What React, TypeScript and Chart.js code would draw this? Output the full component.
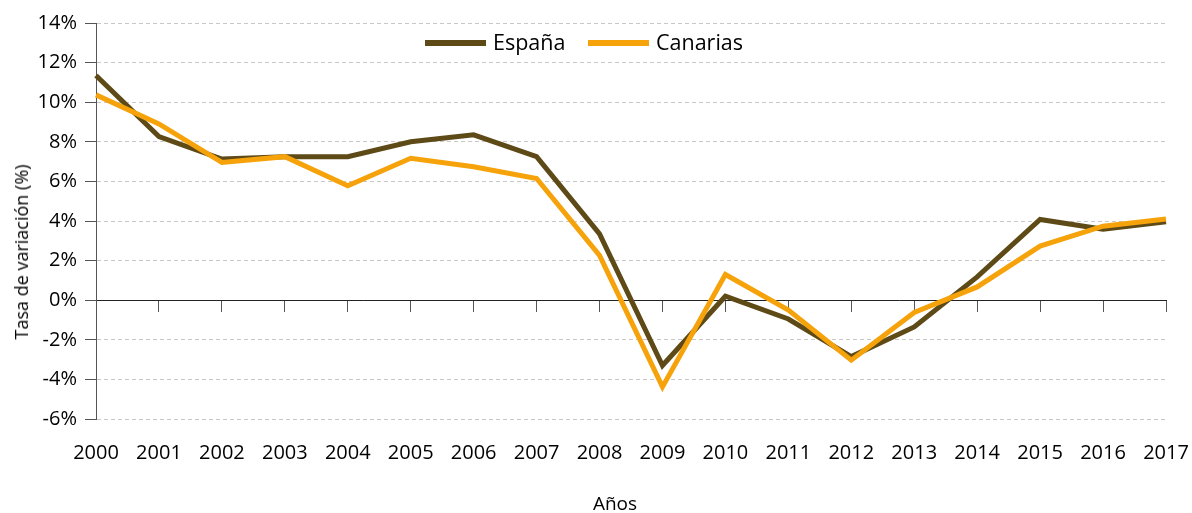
import React, { useEffect, useRef } from "react";
import { Chart, registerables } from "chart.js";

Chart.register(...registerables);

const years = ["2000","2001","2002","2003","2004","2005","2006","2007","2008","2009","2010","2011","2012","2013","2014","2015","2016","2017"];
const espana = [11.35, 8.26, 7.13, 7.25, 7.25, 8.0, 8.35, 7.25, 3.35, -3.3, 0.2, -0.95, -2.85, -1.35, 1.18, 4.08, 3.58, 3.96];
const canarias = [10.37, 8.9, 6.96, 7.25, 5.78, 7.17, 6.74, 6.15, 2.26, -4.38, 1.3, -0.5, -3.03, -0.62, 0.67, 2.73, 3.74, 4.1];
const seriesNames = ["España", "Canarias"];
const seriesColors = ["#5e4a16", "#f6a30b"];
const yTitle = "Tasa de variación (%)";
const xTitle = "Años";

const FONT = "'Open Sans', sans-serif";
const W = 1192;
const H = 513;

export default function App() {
  const ref = useRef<HTMLCanvasElement | null>(null);
  useEffect(() => {
    if (!ref.current) return;
    const chart = new Chart(ref.current, {
      type: "line",
      data: {
        labels: years,
        datasets: [
          { label: seriesNames[0], data: espana, borderColor: seriesColors[0], backgroundColor: seriesColors[0], borderWidth: 5, pointRadius: 0, tension: 0, order: 1, xAxisID: "x" },
          { label: seriesNames[1], data: canarias, borderColor: seriesColors[1], backgroundColor: seriesColors[1], borderWidth: 5, pointRadius: 0, tension: 0, order: 0, xAxisID: "x" },
        ],
      },
      options: {
        responsive: false,
        animation: false,
        layout: { padding: { top: 23, right: 26, left: 0, bottom: 0 } },
        plugins: { legend: { display: false }, tooltip: { enabled: false } },
        scales: {
          x: {
            type: "category",
            position: "bottom",
            grid: { display: false, drawTicks: false },
            border: { display: false },
            ticks: { color: "#000", font: { family: FONT, size: 20 }, padding: 22, maxRotation: 0, autoSkip: false },
            afterFit: (s: any) => { s.height = 94; s.paddingRight = 0; s.paddingLeft = 0; },
          },
          x2: {
            type: "category",
            axis: "x",
            labels: years,
            position: { y: 0 } as any,
            grid: { drawOnChartArea: false, drawTicks: true, tickLength: 11, color: "#555", tickColor: "#555" },
            border: { display: true, color: "#222", width: 1 },
            ticks: { display: false },
            afterFit: (s: any) => { s.paddingRight = 0; s.paddingLeft = 0; },
          },
          y: {
            min: -6,
            max: 14,
            ticks: { stepSize: 2, color: "#000", font: { family: FONT, size: 20 }, padding: 8, callback: (v: any) => `${v}%` },
            grid: { color: "#c8c8c8", tickColor: "#555", tickLength: 11, tickBorderDash: [] as any } as any,
            border: { display: true, color: "#555", width: 1, dash: [4, 3] },
            afterFit: (s: any) => { s.width = 96; },
          },
        },
      } as any,
    });
    return () => chart.destroy();
  }, []);

  const legendItem = (i: number, lineLeft: number, textLeft: number) => (
    <React.Fragment key={i}>
      <div style={{ position: "absolute", left: lineLeft, top: 39.5, width: 61, height: 6, background: seriesColors[i] }} />
      <div style={{ position: "absolute", left: textLeft, top: 28, height: 28, lineHeight: "28px", fontFamily: FONT, fontSize: 21.5, color: "#000", whiteSpace: "nowrap" }}>{seriesNames[i]}</div>
    </React.Fragment>
  );

  return (
    <div style={{ position: "absolute", left: 0, top: 0, width: W, height: H, background: "#fff", overflow: "hidden" }}>
      <canvas ref={ref} width={W} height={H} style={{ display: "block" }} />
      {legendItem(0, 425, 493)}
      {legendItem(1, 588, 656)}
      <div style={{ position: "absolute", left: 21, top: 252, transform: "translate(-50%, -50%) rotate(-90deg)", fontFamily: FONT, fontSize: 18, color: "#000", whiteSpace: "nowrap", lineHeight: "24px" }}>{yTitle}</div>
      <div style={{ position: "absolute", left: 615, top: 503, transform: "translate(-50%, -50%)", fontFamily: FONT, fontSize: 19, color: "#000", whiteSpace: "nowrap", lineHeight: "24px" }}>{xTitle}</div>
    </div>
  );
}
